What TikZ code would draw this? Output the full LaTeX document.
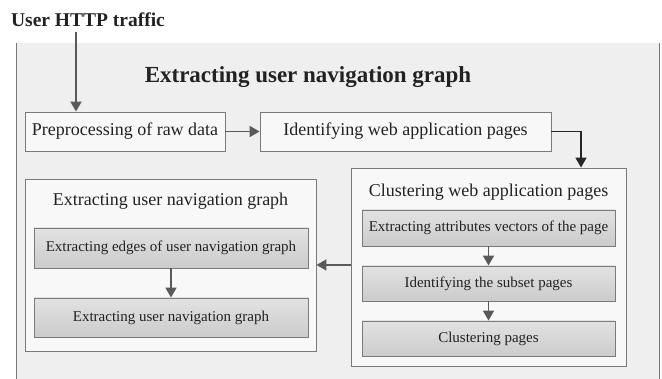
\documentclass[tikz,border=0pt]{standalone}
\usepackage{fontspec}
\setmainfont{Liberation Serif}
\usetikzlibrary{arrows.meta}
\definecolor{panel}{HTML}{EFEFEF}
\definecolor{boxline}{HTML}{7A7A7A}
\definecolor{lightbox}{HTML}{F8F8F8}
\definecolor{greybox}{HTML}{D6D6D6}
\definecolor{arrowgrey}{HTML}{5A5A5A}
\definecolor{ink}{HTML}{222222}
\tikzset{
  stagebox/.style={draw=boxline, line width=0.9pt, fill=lightbox, inner sep=0pt,
    text=ink, font=\fontsize{18}{20}\selectfont},
  groupbox/.style={draw=boxline, line width=0.9pt, fill=lightbox, inner sep=0pt},
  subbox/.style={draw=boxline, line width=0.9pt, top color=greybox!70!white, bottom color=greybox!95!black,
    inner sep=0pt, text=ink, font=\fontsize{15}{17}\selectfont},
  grouptitle/.style={text=ink, font=\fontsize{18}{20}\selectfont, inner sep=0pt},
  flow/.style={draw=arrowgrey, line width=1.8pt, -{Triangle[length=10pt,width=11pt]}},
  flowdark/.style={draw=black!85, line width=1.8pt, -{Triangle[length=10pt,width=11pt]}},
}
\begin{document}
\begin{tikzpicture}[x=1pt, y=-1pt]
\useasboundingbox (0,0) rectangle (662,379);
% grey panel with side borders
\fill[panel] (16,43) rectangle (659,379);
\draw[boxline, line width=0.9pt] (16,43) -- (16,379);
\draw[boxline, line width=0.9pt] (659,43) -- (659,379);

\node[text=ink, font=\bfseries\fontsize{19.5}{22}\selectfont, inner sep=0pt] (input) at (88,20) {User HTTP traffic};
\coordinate (inbot) at (76,32);
\node[text=ink, font=\bfseries\fontsize{23}{26}\selectfont, inner sep=0pt] (title) at (308,77) {Extracting user navigation graph};

% top row
\node[stagebox, minimum width=200pt, minimum height=39pt] (pre) at (125,131.5) {Preprocessing of raw data};
\node[stagebox, minimum width=291pt, minimum height=39pt] (ident) at (405.5,131.5) {Identifying web application pages};

% clustering group
\node[groupbox, minimum width=275pt, minimum height=198pt] (clu) at (488.5,267) {};
\node[grouptitle] (clut) at (488.5,192) {Clustering web application pages};
\node[subbox, minimum width=253pt, minimum height=36pt] (c1) at (488.5,228) {Extracting attributes vectors of the page};
\node[subbox, minimum width=253pt, minimum height=35pt] (c2) at (488.5,283.5) {Identifying the subset pages};
\node[subbox, minimum width=253pt, minimum height=35pt] (c3) at (488.5,338.5) {Clustering pages};

% graph extraction group
\node[groupbox, minimum width=291pt, minimum height=172pt] (ext) at (170.5,265) {};
\node[grouptitle] (extt) at (170.5,201) {Extracting user navigation graph};
\node[subbox, minimum width=274pt, minimum height=40pt] (e1) at (171,248) {Extracting edges of user navigation graph};
\node[subbox, minimum width=274pt, minimum height=39pt] (e2) at (171,317.5) {Extracting user navigation graph};

% connectors
\draw[flow] (inbot) -- (inbot |- pre.north);
\draw[flow] (pre.east) -- (ident.west);
\draw[flowdark] (ident.east) -| (581,0 |- clu.north);
\draw[flow] (c1.south) -- (c2.north);
\draw[flow] (c2.south) -- (c3.north);
\draw[flow] (e1.south) -- (e2.north);
\draw[flow] (clu.west |- 0,265) -- (ext.east |- 0,265);
\end{tikzpicture}
\end{document}
